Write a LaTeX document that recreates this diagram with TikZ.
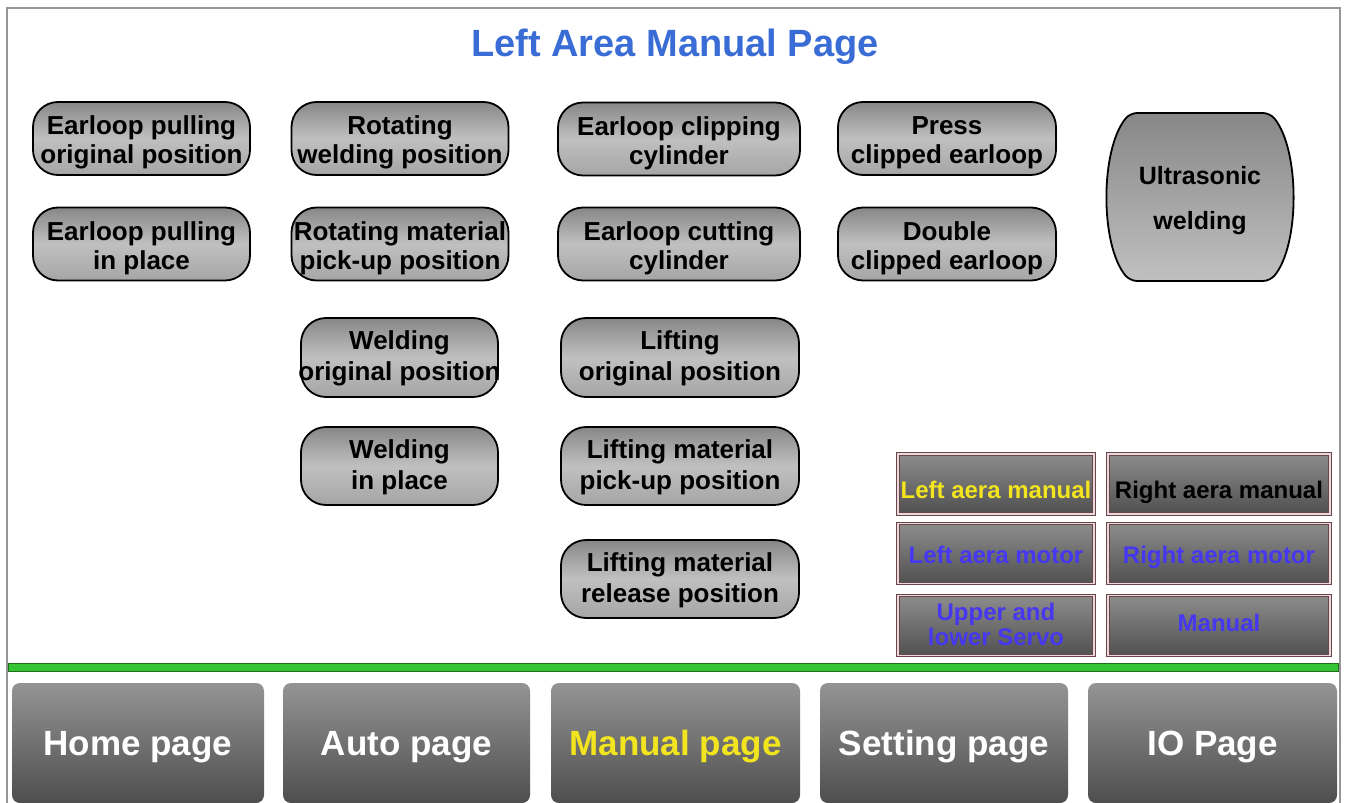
\documentclass[tikz,border=0pt]{standalone}
\usepackage{fontspec}
\setmainfont{Liberation Sans}
\definecolor{titleblue}{RGB}{58,108,214}
\definecolor{pilltop}{RGB}{135,135,135}
\definecolor{pillmid}{RGB}{192,192,192}
\definecolor{pillbot}{RGB}{165,165,165}
\definecolor{navtop}{RGB}{148,148,148}
\definecolor{navbot}{RGB}{78,78,78}
\definecolor{gridtop}{RGB}{140,140,140}
\definecolor{gridbot}{RGB}{80,80,80}
\definecolor{gridedge}{RGB}{105,70,75}
\definecolor{gridinner}{RGB}{235,215,220}
\definecolor{btnyellow}{RGB}{242,228,30}
\definecolor{btnblue}{RGB}{70,55,240}
\definecolor{barfill}{RGB}{52,196,52}
\definecolor{baredge}{RGB}{30,110,30}
\definecolor{framegray}{RGB}{150,150,150}
\tikzset{
  pill/.style={draw=black, line width=1.8pt, rounded corners=25pt,
    minimum width=217pt, minimum height=73pt, inner sep=0pt,
    top color=pilltop, bottom color=pillbot, middle color=pillmid},
  pilltext/.style={inner sep=0pt, font=\bfseries\fontsize{26}{29}\selectfont, align=center, text=black},
  pilltextb/.style={pilltext, font=\bfseries\fontsize{26}{31}\selectfont},
  gridbtn/.style={draw=gridedge, line width=1.2pt, double=gridinner, double distance=1.4pt,
    minimum width=196pt, minimum height=60pt, inner sep=0pt,
    top color=gridtop, bottom color=gridbot},
  gridtext/.style={inner sep=0pt, font=\bfseries\fontsize{24}{25}\selectfont, align=center},
  navbtn/.style={rounded corners=8pt, minimum width=250pt, minimum height=120pt,
    inner sep=0pt, top color=navtop, bottom color=navbot},
  navtext/.style={inner sep=0pt, font=\bfseries\fontsize{35}{40}\selectfont, text=white},
}
\begin{document}
\begin{tikzpicture}[x=1pt,y=-1pt]
\useasboundingbox (0,0) rectangle (1345,803);
\fill[white] (0,0) rectangle (1345,803);
% frame
\draw[framegray, line width=1.5pt] (7,803) -- (7,8) -- (1340,8) -- (1340,803);
% title
\node[font=\bfseries\fontsize{38}{42}\selectfont, text=titleblue] (title) at (675,47) {Left Area Manual Page};
% pills: shapes
\node[pill] (p1) at (141.5,138.5) {};
\node[pill] (p2) at (400,138.5) {};
\node[pill, minimum width=242pt] (p3) at (679,139) {};
\node[pill, minimum width=218pt] (p4) at (947,138.5) {};
\node[pill] (p5) at (141.5,244) {};
\node[pill] (p6) at (400,244) {};
\node[pill, minimum width=242pt] (p7) at (679,244) {};
\node[pill, minimum width=218pt] (p8) at (947,244) {};
\node[pill, minimum width=197pt, minimum height=79pt] (p9) at (399.5,357.5) {};
\node[pill, minimum width=238pt, minimum height=79pt] (p10) at (680,357.5) {};
\node[pill, minimum width=197pt, minimum height=78pt] (p11) at (399.5,466) {};
\node[pill, minimum width=238pt, minimum height=78pt] (p12) at (680,466) {};
\node[pill, minimum width=238pt, minimum height=78pt] (p13) at (680,579) {};
% pills: texts
\node[pilltext] (t1) at ([yshift=-4pt]p1.center) {Earloop pulling\\original position};
\node[pilltext] (t2) at ([yshift=-4pt]p2.center) {Rotating\\welding position};
\node[pilltext] (t3) at ([yshift=-4pt]p3.center) {Earloop clipping\\cylinder};
\node[pilltext] (t4) at ([yshift=-4pt]p4.center) {Press\\clipped earloop};
\node[pilltext] (t5) at ([yshift=-4pt]p5.center) {Earloop pulling\\in place};
\node[pilltext] (t6) at ([yshift=-4pt]p6.center) {Rotating material\\pick-up position};
\node[pilltext] (t7) at ([yshift=-4pt]p7.center) {Earloop cutting\\cylinder};
\node[pilltext] (t8) at ([yshift=-4pt]p8.center) {Double\\clipped earloop};
\node[pilltextb] (t9) at ([yshift=-1pt]p9.center) {Welding\\original position};
\node[pilltextb] (t10) at ([yshift=-1pt]p10.center) {Lifting\\original position};
\node[pilltextb] (t11) at ([yshift=-1pt]p11.center) {Welding\\in place};
\node[pilltextb] (t12) at ([yshift=-1pt]p12.center) {Lifting material\\pick-up position};
\node[pilltextb] (t13) at ([yshift=-1pt]p13.center) {Lifting material\\release position};
% ultrasonic welding barrel
\path[draw=black, line width=1.8pt, rounded corners=7pt, top color=pilltop, bottom color=pillmid]
  (1200,113) -- (1270,113) .. controls (1300,150) and (1300,245) .. (1270,281)
  -- (1130,281) .. controls (1100,245) and (1100,150) .. (1130,113) -- cycle;
\node[font=\bfseries\fontsize{25}{45}\selectfont, align=center, inner sep=0pt] (uw) at (1200,201) {Ultrasonic\\welding};
% grid buttons
\node[gridbtn] (g1) at (996,484) {};
\node[gridbtn, minimum width=222pt] (g2) at (1219,484) {};
\node[gridbtn] (g3) at (996,553.5) {};
\node[gridbtn, minimum width=222pt] (g4) at (1219,553.5) {};
\node[gridbtn] (g5) at (996,625.5) {};
\node[gridbtn, minimum width=222pt] (g6) at (1219,625.5) {};
\node[gridtext, text=btnyellow, anchor=base] (gt1) at ([yshift=-14pt]g1.center) {Left aera manual};
\node[gridtext, text=black, anchor=base] (gt2) at ([yshift=-14pt]g2.center) {Right aera manual};
\node[gridtext, text=btnblue, anchor=base] (gt3) at ([yshift=-10pt]g3.center) {Left aera motor};
\node[gridtext, text=btnblue, anchor=base] (gt4) at ([yshift=-10pt]g4.center) {Right aera motor};
\node[gridtext, text=btnblue] (gt5) at ([yshift=1pt]g5.center) {Upper and\\lower Servo};
\node[gridtext, text=btnblue, anchor=base] (gt6) at ([yshift=-6pt]g6.center) {Manual};
% green bar
\node[draw=baredge, fill=barfill, line width=1pt, minimum width=1330pt, minimum height=8pt, inner sep=0pt] (bar) at (673,667.5) {};
% nav buttons
\node[navbtn, minimum width=252pt] (n1) at (138,743) {};
\node[navbtn, minimum width=247pt] (n2) at (406.5,743) {};
\node[navbtn, minimum width=249pt] (n3) at (675.5,743) {};
\node[navbtn, minimum width=248pt] (n4) at (944,743) {};
\node[navbtn, minimum width=249pt] (n5) at (1212.5,743) {};
\node[navtext, anchor=base] (nt1) at ([yshift=-12pt]n1.center) {Home page};
\node[navtext, anchor=base] (nt2) at ([yshift=-12pt]n2.center) {Auto page};
\node[navtext, anchor=base, text=btnyellow] (nt3) at ([yshift=-12pt]n3.center) {Manual page};
\node[navtext, anchor=base] (nt4) at ([yshift=-12pt]n4.center) {Setting page};
\node[navtext, anchor=base] (nt5) at ([yshift=-12pt]n5.center) {IO Page};
\end{tikzpicture}
\end{document}
